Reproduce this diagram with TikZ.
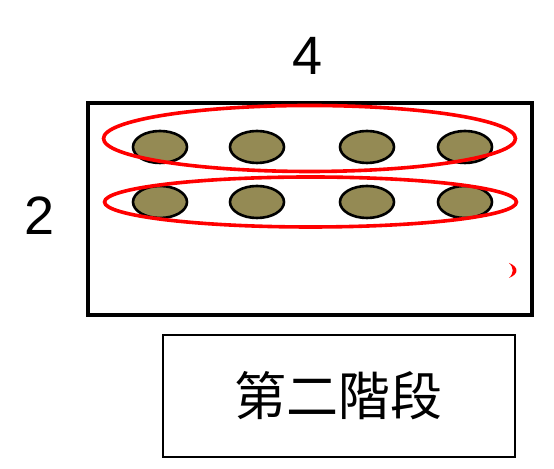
\documentclass[tikz,border=0pt]{standalone}
\usepackage{fontspec}
\setmainfont{Liberation Sans}
\newfontfamily\cjk{Noto Sans CJK TC}
\usetikzlibrary{shapes.geometric}
\definecolor{olive}{HTML}{948A54}

\begin{document}
\begin{tikzpicture}[x=0.5pt, y=-0.5pt]
  \tikzstyle{frame} = [rectangle, draw, line width=1.6pt, inner sep=0pt]
  \tikzstyle{dot} = [ellipse, draw, fill=olive, line width=1.3pt,
  inner sep=0pt, minimum width=27pt, minimum height=16pt]
  \tikzstyle{ring} = [ellipse, draw=red, line width=1.8pt, inner sep=0pt]

  \useasboundingbox (0,0) rectangle (554,469);

  % Define nodes
  \node[frame, minimum width=222pt, minimum height=106pt] (box) at (310,209) {};
  \node[frame, line width=1.2pt, minimum width=176pt, minimum height=61pt] (stage) at (339,396)
    {\cjk\fontsize{26pt}{26pt}\selectfont 第二階段};
  \node (cols) at (308,56) {\fontsize{27pt}{27pt}\selectfont 4};
  \node (rows) at (40,216) {\fontsize{27pt}{27pt}\selectfont 2};

  % first row
  \node[dot] (a1) at (160,147) {};
  \node[dot] (a2) at (257,147) {};
  \node[dot] (a3) at (367,147) {};
  \node[dot] (a4) at (465,147) {};
  % second row
  \node[dot] (b1) at (160,202) {};
  \node[dot] (b2) at (257,202) {};
  \node[dot] (b3) at (367,202) {};
  \node[dot] (b4) at (465,202) {};

  % groups
  \node[ring, minimum width=206pt, minimum height=33pt] (top) at (309.5,138.5) {};
  \node[ring, minimum width=206pt, minimum height=25pt] (bottom) at (310.5,202) {};

  \fill[red] (509,263) .. controls (519,267) and (519,274) .. (509,278)
    .. controls (514,273) and (514,268) .. (509,263);
\end{tikzpicture}
\end{document}
